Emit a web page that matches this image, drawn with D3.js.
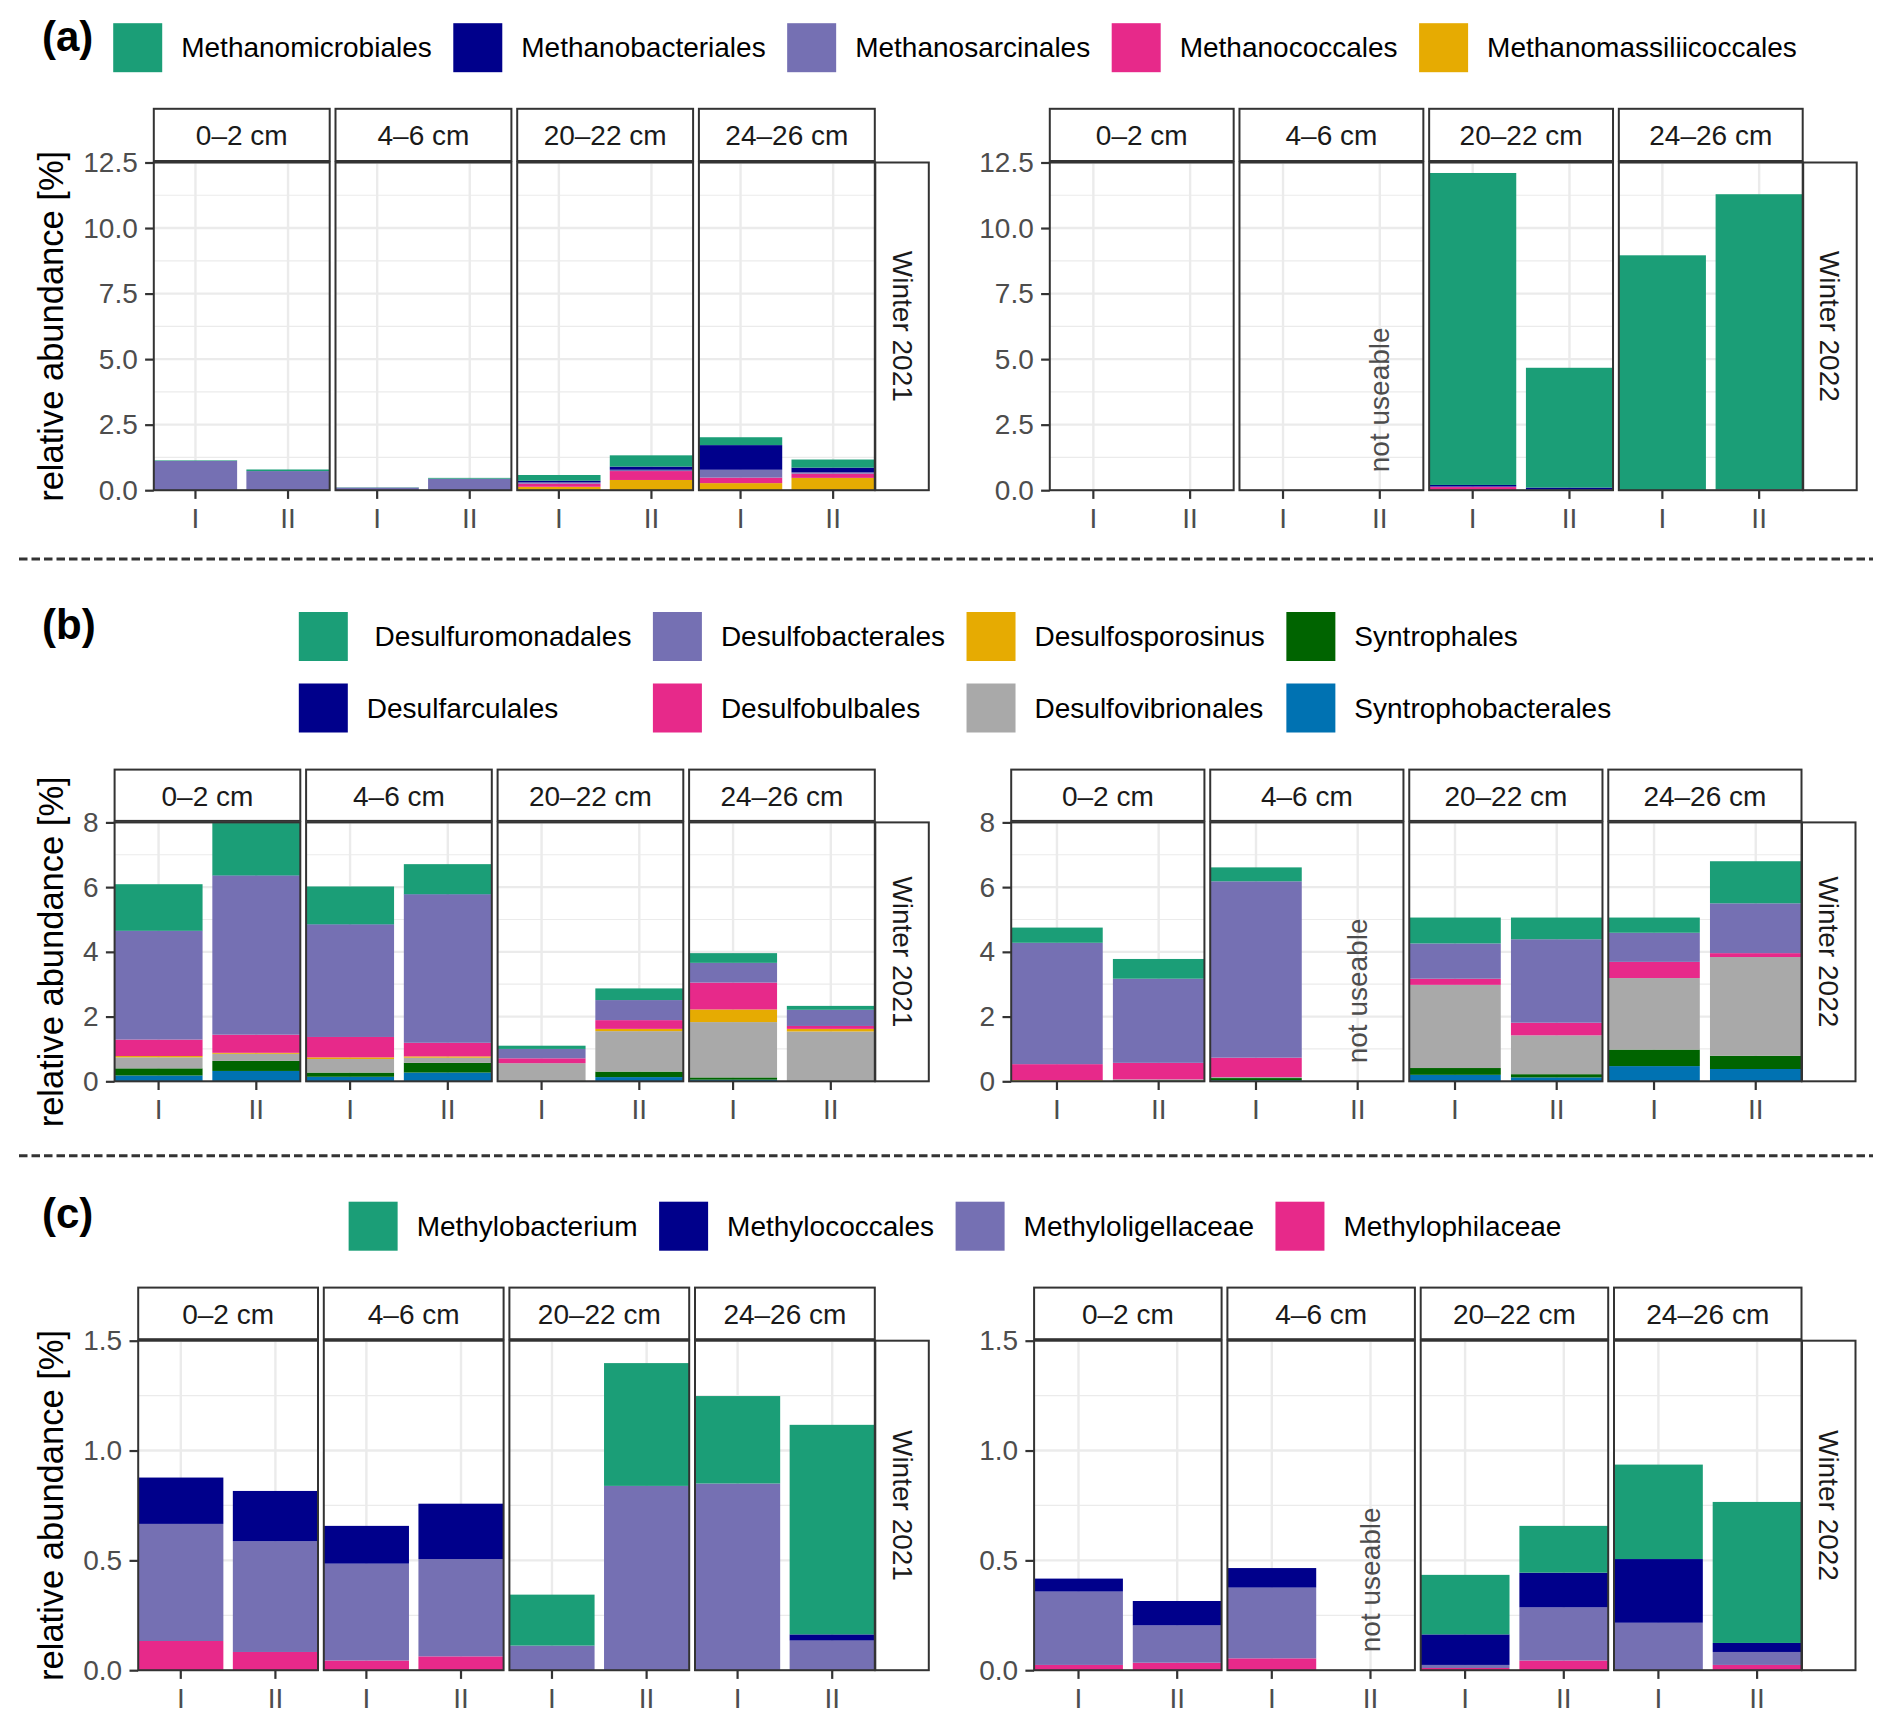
<!DOCTYPE html>
<html>
<head>
<meta charset="utf-8">
<script src="https://cdn.jsdelivr.net/npm/d3@7"></script>
<style>
  body { margin: 0; background: #fff; }
  text { font-family: "Liberation Sans", Arial, Helvetica, sans-serif; }
</style>
</head>
<body>
<div class="chart"></div>
<script>
// ---- data ----
var depths = ["0–2 cm", "4–6 cm", "20–22 cm", "24–26 cm"];
var replicates = ["I", "II"];
var seasons = ["Winter 2021", "Winter 2022"];
// every value row below follows: 0–2 I, 0–2 II, 4–6 I, 4–6 II, 20–22 I, 20–22 II, 24–26 I, 24–26 II
var unusable = { season: 1, sample: 3 };   // Winter 2022, 4–6 cm, II

var methanoTaxa = ["Methanomicrobiales", "Methanobacteriales", "Methanosarcinales", "Methanococcales", "Methanomassiliicoccales"];
var methanoColors = ["#1B9E77", "#00008B", "#7570B3", "#E7298A", "#E6AB02"];
var methano2021 = [
  [0.02, 0.06, 0.01, 0.03, 0.22, 0.43, 0.30, 0.31],
  [0.00, 0.00, 0.00, 0.00, 0.06, 0.12, 0.94, 0.18],
  [1.12, 0.73, 0.10, 0.44, 0.05, 0.05, 0.30, 0.05],
  [0.00, 0.00, 0.00, 0.00, 0.12, 0.34, 0.21, 0.16],
  [0.00, 0.00, 0.00, 0.00, 0.13, 0.39, 0.27, 0.47]
];
var methano2022 = [
  [0, 0, 0, null, 11.90, 4.57, 8.96, 11.26],
  [0, 0, 0, null, 0.06, 0.08, 0.00, 0.00],
  [0, 0, 0, null, 0.02, 0.01, 0.00, 0.00],
  [0, 0, 0, null, 0.12, 0.01, 0.00, 0.03],
  [0, 0, 0, null, 0.00, 0.00, 0.00, 0.00]
];
var methanoTicks = [0, 2.5, 5, 7.5, 10, 12.5];

var sulfTaxa = [" Desulfuromonadales", "Desulfarculales", "Desulfobacterales", "Desulfobulbales",
  "Desulfosporosinus", "Desulfovibrionales", "Syntrophales", "Syntrophobacterales"];
var sulfColors = ["#1B9E77", "#00008B", "#7570B3", "#E7298A", "#E6AB02", "#A9A9A9", "#006400", "#0072B2"];
var sulf2021 = [
  [1.44, 1.62, 1.17, 0.93, 0.10, 0.36, 0.30, 0.12],
  [0.01, 0.01, 0.01, 0.01, 0.00, 0.00, 0.00, 0.00],
  [3.35, 4.91, 3.47, 4.58, 0.29, 0.62, 0.61, 0.50],
  [0.51, 0.56, 0.63, 0.42, 0.15, 0.27, 0.83, 0.09],
  [0.04, 0.03, 0.05, 0.04, 0.00, 0.07, 0.39, 0.08],
  [0.34, 0.22, 0.42, 0.16, 0.54, 1.25, 1.71, 1.52],
  [0.22, 0.31, 0.13, 0.30, 0.01, 0.17, 0.07, 0.01],
  [0.18, 0.32, 0.14, 0.27, 0.01, 0.13, 0.05, 0.01]
];
var sulf2022 = [
  [0.47, 0.61, 0.43, null, 0.80, 0.67, 0.47, 1.30],
  [0.00, 0.00, 0.00, null, 0.00, 0.00, 0.00, 0.00],
  [3.75, 2.60, 5.45, null, 1.09, 2.58, 0.90, 1.54],
  [0.49, 0.51, 0.60, null, 0.19, 0.39, 0.50, 0.12],
  [0.02, 0.00, 0.00, null, 0.00, 0.00, 0.00, 0.00],
  [0.01, 0.03, 0.03, null, 2.57, 1.20, 2.21, 3.05],
  [0.01, 0.02, 0.07, null, 0.21, 0.10, 0.51, 0.41],
  [0.00, 0.01, 0.03, null, 0.20, 0.12, 0.47, 0.38]
];
var sulfTicks = [0, 2, 4, 6, 8];

var methylTaxa = ["Methylobacterium", "Methylococcales", "Methyloligellaceae", "Methylophilaceae"];
var methylColors = ["#1B9E77", "#00008B", "#7570B3", "#E7298A"];
var methyl2021 = [
  [0.000, 0.000, 0.000, 0.000, 0.232, 0.559, 0.398, 0.954],
  [0.211, 0.229, 0.172, 0.252, 0.000, 0.000, 0.000, 0.028],
  [0.533, 0.504, 0.441, 0.443, 0.112, 0.839, 0.850, 0.135],
  [0.133, 0.083, 0.044, 0.063, 0.000, 0.000, 0.000, 0.000]
];
var methyl2022 = [
  [0.000, 0.000, 0.000, null, 0.271, 0.213, 0.430, 0.642],
  [0.059, 0.111, 0.089, null, 0.139, 0.158, 0.290, 0.041],
  [0.334, 0.170, 0.322, null, 0.014, 0.242, 0.216, 0.059],
  [0.024, 0.034, 0.054, null, 0.010, 0.044, 0.000, 0.024]
];
var methylTicks = [0, 0.5, 1, 1.5];

// ---- layout ----
var W = 1892, H = 1726;
var small = 28, big = 34.5;
var keySize = 49, textGap = 19, colGap = 21.5, rowPitch = 71.5;
var facetGap = 5.8, tickLen = 8.7;

var sections = [
  { tag: "(a)", tagY: 50.7, taxa: methanoTaxa, colors: methanoColors, values: [methano2021, methano2022],
    ticks: methanoTicks, fmt: d3.format(".1f"), legendTop: 23.2, legendRows: 1,
    stripTop: 108.8, top: 162.5, bottom: 490.2, halves: [[153.8, 874.8], [1049.8, 1802.7]] },
  { tag: "(b)", tagY: 639, taxa: sulfTaxa, colors: sulfColors, values: [sulf2021, sulf2022],
    ticks: sulfTicks, fmt: d3.format("d"), legendTop: 612, legendRows: 2,
    stripTop: 769.6, top: 822.4, bottom: 1081.3, halves: [[114.6, 874.8], [1011.2, 1801.5]] },
  { tag: "(c)", tagY: 1227.6, taxa: methylTaxa, colors: methylColors, values: [methyl2021, methyl2022],
    ticks: methylTicks, fmt: d3.format(".1f"), legendTop: 1201.7, legendRows: 1,
    stripTop: 1287.6, top: 1340.7, bottom: 1670.2, halves: [[138.2, 874.8], [1034.1, 1801.5]] }
];
var separators = [559, 1155.7];

var svg = d3.select('.chart').append('svg')
  .attr('width', W)
  .attr('height', H);

svg.append('rect').attr('width', W).attr('height', H).attr('fill', '#fff');

svg.selectAll('.sep').data(separators)
  .enter().append('line')
  .attr('x1', 19).attr('x2', 1873)
  .attr('y1', function(d){ return d; }).attr('y2', function(d){ return d; })
  .attr('stroke', '#333').attr('stroke-width', 3)
  .attr('stroke-dasharray', '8.5,4');

function textWidth(str, size) {
  var t = svg.append('text').attr('font-size', size).style('white-space', 'pre').text(str);
  var w = t.node().getComputedTextLength();
  t.remove();
  return w;
}

function drawLegend(g, s) {
  var nrow = s.legendRows;
  var ncol = Math.ceil(s.taxa.length / nrow);
  var widths = s.taxa.map(function(t){ return textWidth(t, small); });
  var colW = d3.range(ncol).map(function(c){
    return d3.max(d3.range(nrow), function(r){ return widths[c * nrow + r] || 0; });
  });
  var total = d3.sum(colW) + ncol * (keySize + textGap) + (ncol - 1) * colGap;
  var colX = [];
  var cx = 955 - total / 2;
  colW.forEach(function(w){ colX.push(cx); cx += keySize + textGap + w + colGap; });

  var items = g.selectAll('.key').data(s.taxa).enter().append('g')
    .attr('transform', function(d, i){
      return 'translate(' + colX[Math.floor(i / nrow)] + ',' + (s.legendTop + (i % nrow) * rowPitch) + ')';
    });
  items.append('rect')
    .attr('width', keySize).attr('height', keySize)
    .attr('fill', function(d, i){ return s.colors[i]; });
  items.append('text')
    .attr('x', keySize + textGap).attr('y', keySize / 2)
    .attr('dominant-baseline', 'central')
    .attr('font-size', small).attr('fill', '#000')
    .style('white-space', 'pre')
    .text(function(d){ return d; });
}

function drawSection(s) {
  var g = svg.append('g');
  g.append('text').attr('x', 42).attr('y', s.tagY)
    .attr('font-size', 42).attr('font-weight', 'bold').text(s.tag);
  drawLegend(g, s);

  var y = d3.scaleLinear().domain([0, d3.max(s.ticks)]).range([s.bottom, s.top]);
  var minor = d3.pairs(s.ticks).map(function(p){ return (p[0] + p[1]) / 2; });
  var keys = s.taxa.slice().reverse();
  var color = d3.scaleOrdinal().domain(s.taxa).range(s.colors);

  s.values.forEach(function(vals, si) {
    var half = s.halves[si];
    var facetW = (half[1] - half[0] - 3 * facetGap) / 4;
    var rows = d3.range(depths.length * replicates.length).map(function(i){
      var row = { depth: depths[Math.floor(i / 2)], rep: replicates[i % 2] };
      s.taxa.forEach(function(t, ti){ row[t] = vals[ti][i] || 0; });
      return row;
    });
    var layers = d3.stack().keys(keys)(rows);

    depths.forEach(function(depth, di) {
      var x0 = half[0] + di * (facetW + facetGap);
      var x = d3.scaleBand().domain(replicates).range([x0, x0 + facetW])
        .paddingInner(0.1).paddingOuter(0);
      var fg = g.append('g');

      fg.append('rect').attr('x', x0).attr('y', s.top)
        .attr('width', facetW).attr('height', s.bottom - s.top).attr('fill', '#fff');

      fg.selectAll('.minor').data(minor).enter().append('line')
        .attr('x1', x0).attr('x2', x0 + facetW)
        .attr('y1', function(d){ return y(d); }).attr('y2', function(d){ return y(d); })
        .attr('stroke', '#EBEBEB').attr('stroke-width', 1.2);
      fg.selectAll('.major').data(s.ticks).enter().append('line')
        .attr('x1', x0).attr('x2', x0 + facetW)
        .attr('y1', function(d){ return y(d); }).attr('y2', function(d){ return y(d); })
        .attr('stroke', '#EBEBEB').attr('stroke-width', 2.4);
      fg.selectAll('.vgrid').data(replicates).enter().append('line')
        .attr('x1', function(d){ return x(d) + x.bandwidth() / 2; })
        .attr('x2', function(d){ return x(d) + x.bandwidth() / 2; })
        .attr('y1', s.top).attr('y2', s.bottom)
        .attr('stroke', '#EBEBEB').attr('stroke-width', 2.4);

      layers.forEach(function(layer) {
        fg.selectAll(null)
          .data(layer.filter(function(d){ return d.data.depth === depth && d[1] > d[0]; }))
          .enter().append('rect')
          .attr('x', function(d){ return x(d.data.rep); })
          .attr('width', x.bandwidth())
          .attr('y', function(d){ return y(d[1]); })
          .attr('height', function(d){ return y(d[0]) - y(d[1]); })
          .attr('fill', color(layer.key));
      });

      if (si === unusable.season && di === Math.floor(unusable.sample / 2)) {
        var rep = replicates[unusable.sample % 2];
        var tx = x(rep) + x.bandwidth() / 2, ty = y(0) - 18;
        fg.append('text')
          .attr('transform', 'translate(' + tx + ',' + ty + ') rotate(-90)')
          .attr('dominant-baseline', 'central')
          .attr('font-size', small).attr('fill', '#4D4D4D')
          .text('not useable');
      }

      fg.append('rect').attr('x', x0).attr('y', s.top)
        .attr('width', facetW).attr('height', s.bottom - s.top)
        .attr('fill', 'none').attr('stroke', '#333').attr('stroke-width', 2);

      // strip
      fg.append('rect').attr('x', x0).attr('y', s.stripTop)
        .attr('width', facetW).attr('height', s.top - s.stripTop - 1.5)
        .attr('fill', '#fff').attr('stroke', '#333').attr('stroke-width', 2);
      fg.append('text').attr('x', x0 + facetW / 2).attr('y', (s.stripTop + s.top) / 2)
        .attr('text-anchor', 'middle').attr('dominant-baseline', 'central')
        .attr('font-size', small).attr('fill', '#1A1A1A').text(depth);

      var xa = fg.append('g').attr('transform', 'translate(0,' + s.bottom + ')')
        .call(d3.axisBottom(x).tickSize(tickLen).tickPadding(9.5));
      styleAxis(xa);

      if (di === 0) {
        var ya = fg.append('g').attr('transform', 'translate(' + x0 + ',0)')
          .call(d3.axisLeft(y).tickValues(s.ticks).tickFormat(s.fmt).tickSize(tickLen).tickPadding(7.3));
        styleAxis(ya);
      }
    });

    // season strip on the right
    var sx = half[1] + 0.5, sw = 53.5;
    g.append('rect').attr('x', sx).attr('y', s.top)
      .attr('width', sw).attr('height', s.bottom - s.top)
      .attr('fill', '#fff').attr('stroke', '#333').attr('stroke-width', 2);
    g.append('text')
      .attr('transform', 'translate(' + (sx + sw / 2) + ',' + ((s.top + s.bottom) / 2) + ') rotate(90)')
      .attr('text-anchor', 'middle').attr('dominant-baseline', 'central')
      .attr('font-size', small).attr('fill', '#1A1A1A').text(seasons[si]);

    if (si === 0) {
      g.append('text')
        .attr('transform', 'translate(51,' + ((s.top + s.bottom) / 2) + ') rotate(-90)')
        .attr('text-anchor', 'middle').attr('dominant-baseline', 'central')
        .attr('font-size', big).attr('fill', '#000').text('relative abundance [%]');
    }
  });
}

function styleAxis(a) {
  a.select('.domain').remove();
  a.selectAll('line').attr('stroke', '#333').attr('stroke-width', 2.2);
  a.selectAll('text').attr('font-size', small).attr('fill', '#4D4D4D');
}

sections.forEach(drawSection);
</script>
</body>
</html>
